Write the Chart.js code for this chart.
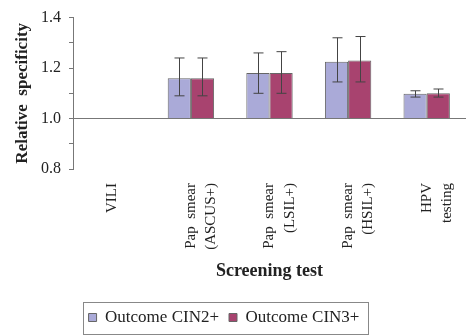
<!DOCTYPE html>
<html lang="en">
<head>
    <meta charset="UTF-8">
    <title>Relative specificity</title>
    <script src="https://cdn.jsdelivr.net/npm/chart.js"></script>
    <style>
        html, body { margin: 0; padding: 0; background: #fff; }
        #wrap { width: 468px; height: 336px; }
    </style>
</head>
<body>
    <div id="wrap">
        <canvas id="specChart" width="468" height="336"></canvas>
    </div>

    <script>
        // screening tests (multi-line labels)
        const tests = [
            'VILI',
            ['Pap  smear', '(ASCUS+)'],
            ['Pap  smear', '(LSIL+)'],
            ['Pap  smear', '(HSIL+)'],
            ['HPV', 'testing']
        ];

        // relative specificity, outcome CIN2+
        const cin2 = [null, 1.16, 1.18, 1.225, 1.098];
        const cin2Low = [null, 1.09, 1.10, 1.145, 1.085];
        const cin2High = [null, 1.24, 1.26, 1.32, 1.11];

        // relative specificity, outcome CIN3+
        const cin3 = [null, 1.16, 1.18, 1.23, 1.10];
        const cin3Low = [null, 1.09, 1.10, 1.145, 1.085];
        const cin3High = [null, 1.24, 1.265, 1.325, 1.117];

        const errLow = [cin2Low, cin3Low];
        const errHigh = [cin2High, cin3High];

        const serif = "'Liberation Serif', 'Times New Roman', serif";

        // draws the confidence interval whiskers
        const errorBars = {
            id: 'errorBars',
            afterDatasetsDraw(chart) {
                const ctx = chart.ctx;
                const y = chart.scales.y;
                ctx.save();
                ctx.strokeStyle = '#444';
                ctx.lineWidth = 1;
                chart.data.datasets.forEach(function (ds, i) {
                    const meta = chart.getDatasetMeta(i);
                    meta.data.forEach(function (bar, j) {
                        if (errLow[i][j] == null) return;
                        const x = Math.round(bar.x) + 0.5;
                        const top = y.getPixelForValue(errHigh[i][j]);
                        const bot = y.getPixelForValue(errLow[i][j]);
                        ctx.beginPath();
                        ctx.moveTo(x, top);
                        ctx.lineTo(x, bot);
                        ctx.moveTo(x - 5, top);
                        ctx.lineTo(x + 5, top);
                        ctx.moveTo(x - 5, bot);
                        ctx.lineTo(x + 5, bot);
                        ctx.stroke();
                    });
                });
                ctx.restore();
            }
        };

        // nudge the legend a little to the left, then frame it
        const legendFrame = {
            id: 'legendFrame',
            afterLayout(chart) {
                chart.legend.left -= 9;
                chart.legend.right -= 9;
            },
            afterDraw(chart) {
                const boxes = chart.legend.legendHitBoxes;
                if (!boxes || !boxes.length) return;
                let left = Infinity, right = -Infinity, top = Infinity, bottom = -Infinity;
                boxes.forEach(function (b) {
                    left = Math.min(left, b.left);
                    right = Math.max(right, b.left + b.width);
                    top = Math.min(top, b.top);
                    bottom = Math.max(bottom, b.top + b.height);
                });
                const ctx = chart.ctx;
                ctx.save();
                ctx.strokeStyle = '#888';
                ctx.lineWidth = 1;
                ctx.strokeRect(Math.round(left - 6) + 0.5, Math.round(top - 7) + 0.5,
                    Math.round(right - left + 14), Math.round(bottom - top + 15));
                ctx.restore();
            }
        };

        new Chart(document.getElementById('specChart'), {
            type: 'bar',
            data: {
                labels: tests,
                datasets: [
                    {
                        label: 'Outcome CIN2+',
                        data: cin2,
                        base: 1.0,
                        backgroundColor: '#aaaad8',
                        borderColor: '#666',
                        borderWidth: 1
                    },
                    {
                        label: 'Outcome CIN3+',
                        data: cin3,
                        base: 1.0,
                        backgroundColor: '#a8436f',
                        borderColor: '#666',
                        borderWidth: 1
                    }
                ]
            },
            options: {
                responsive: false,
                animation: false,
                devicePixelRatio: 1,
                layout: { padding: { top: 13, right: 2, left: 0, bottom: 0 } },
                datasets: {
                    bar: { categoryPercentage: 0.59, barPercentage: 1.0 }
                },
                plugins: {
                    tooltip: { enabled: false },
                    legend: {
                        position: 'bottom',
                        align: 'center',
                        labels: {
                            boxWidth: 8,
                            boxHeight: 8,
                            padding: 10,
                            color: '#222',
                            font: { family: serif, size: 17 }
                        }
                    }
                },
                scales: {
                    x: {
                        grid: { display: false, drawTicks: false },
                        border: { display: false },
                        ticks: {
                            minRotation: 90,
                            maxRotation: 90,
                            padding: 14,
                            color: '#222',
                            font: { family: serif, size: 15, lineHeight: 1.35 }
                        },
                        title: {
                            display: true,
                            text: 'Screening test',
                            color: '#222',
                            font: { family: serif, size: 18, weight: 'bold' },
                            padding: { top: 4, bottom: 17 }
                        },
                        afterFit(scale) {
                            scale.height = 130;
                            scale.paddingLeft = 0;
                            scale.paddingRight = 0;
                        }
                    },
                    y: {
                        min: 0.8,
                        max: 1.4,
                        grid: {
                            color: ctx => (ctx.tick && Math.abs(ctx.tick.value - 1) < 1e-6) ? '#777' : 'rgba(0,0,0,0)',
                            tickColor: '#777',
                            tickLength: 4
                        },
                        border: { display: true, color: '#777' },
                        ticks: {
                            stepSize: 0.1,
                            padding: 8,
                            color: '#222',
                            font: { family: serif, size: 16 },
                            callback: v => (Math.round(v * 10) % 2 === 0) ? v.toFixed(1) : ''
                        },
                        title: {
                            display: true,
                            text: 'Relative  specificity',
                            color: '#222',
                            font: { family: serif, size: 17, weight: 'bold' },
                            padding: { top: 12, bottom: 4 }
                        },
                        afterFit(scale) { scale.width = 73; }
                    }
                }
            },
            plugins: [errorBars, legendFrame]
        });
    </script>
</body>
</html>
